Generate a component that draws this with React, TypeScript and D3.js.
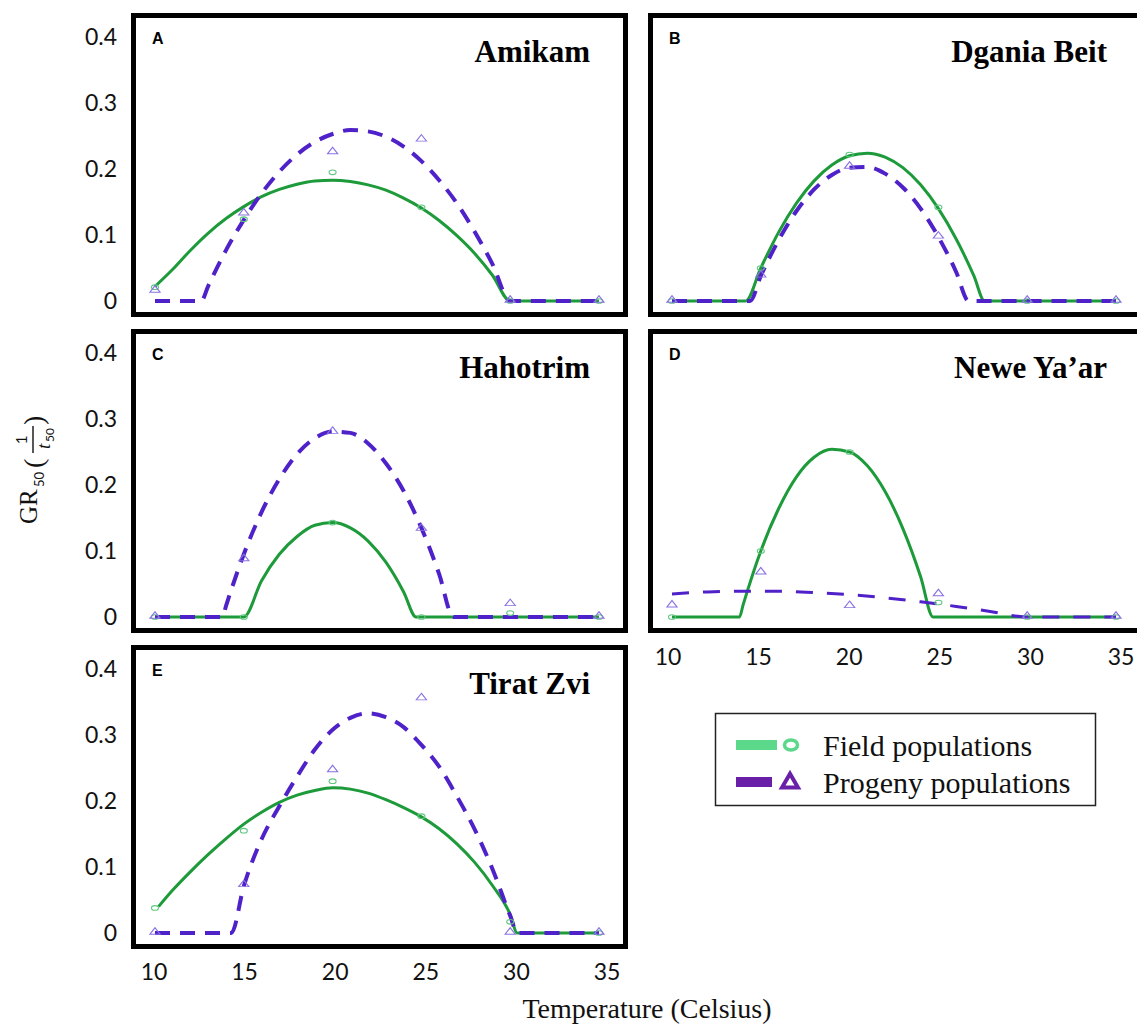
import { useEffect, useRef } from "react";
import * as d3 from "d3";

const siteNames = ["Amikam", "Dgania Beit", "Hahotrim", "Newe Ya’ar", "Tirat Zvi"];
const panelLetters = ["A", "B", "C", "D", "E"];
const obsTemps = [10, 15, 20, 25, 30, 35];
const yTicks = [0, 0.1, 0.2, 0.3, 0.4];
const xTicks = [10, 15, 20, 25, 30, 35];
const legendLabels = ["Field populations", "Progeny populations"];

// observed GR50 values at obsTemps
const amikamField = [0.021, 0.124, 0.195, 0.142, 0, 0];
const amikamProgeny = [0.015, 0.132, 0.225, 0.244, 0, 0];
const dganiaField = [0, 0.05, 0.222, 0.142, 0, 0];
const dganiaProgeny = [0, 0.038, 0.203, 0.097, 0, 0];
const hahotrimField = [0, 0, 0.143, 0, 0.006, 0];
const hahotrimProgeny = [0, 0.087, 0.28, 0.133, 0.019, 0];
const neweField = [0, 0.1, 0.25, 0.022, 0, 0];
const neweProgeny = [0.017, 0.067, 0.016, 0.034, 0, 0];
const tiratField = [0.038, 0.155, 0.23, 0.177, 0.017, 0];
const tiratProgeny = [0, 0.072, 0.246, 0.355, 0, 0];

// fitted curves, [temperature, GR50]
const amikamFieldFit = [
  [10, 0.022], [11, 0.048], [12, 0.077], [13, 0.103], [14, 0.125], [15, 0.143],
  [16, 0.158], [17, 0.169], [18, 0.177], [19, 0.182], [20, 0.183], [21, 0.181],
  [22, 0.176], [23, 0.168], [24, 0.156], [25, 0.141], [26, 0.122], [27, 0.099],
  [28, 0.072], [29, 0.039], [30, 0], [35, 0],
];
const amikamProgenyFit = [
  [10, 0], [12.6, 0], [13, 0.023], [14, 0.077], [15, 0.123], [16, 0.163],
  [17, 0.196], [18, 0.222], [19, 0.241], [20, 0.253], [21, 0.259], [22, 0.257],
  [23, 0.249], [24, 0.234], [25, 0.212], [26, 0.183], [27, 0.148], [28, 0.105],
  [29, 0.056], [30, 0], [35, 0],
];
const dganiaFieldFit = [
  [10, 0], [14.15, 0], [15, 0.05], [16, 0.104], [17, 0.148], [18, 0.182],
  [19, 0.206], [20, 0.22], [21, 0.224], [22, 0.218], [23, 0.202], [24, 0.176],
  [25, 0.14], [26, 0.094], [27, 0.038], [27.6, 0], [35, 0],
];
const dganiaProgenyFit = [
  [10, 0], [14.4, 0], [15, 0.038], [16, 0.092], [17, 0.136], [18, 0.169],
  [19, 0.191], [20, 0.202], [21, 0.203], [22, 0.193], [23, 0.172], [24, 0.14],
  [25, 0.097], [26, 0.044], [26.7, 0], [35, 0],
];
const hahotrimFieldFit = [
  [10, 0], [15, 0], [16, 0.055], [17, 0.095], [18, 0.122], [19, 0.139],
  [20, 0.143], [21, 0.135], [22, 0.115], [23, 0.083], [24, 0.038], [24.7, 0], [35, 0],
];
const hahotrimProgenyFit = [
  [10, 0], [13.8, 0], [14, 0.017], [15, 0.095], [16, 0.159], [17, 0.209],
  [18, 0.247], [19, 0.271], [20, 0.281], [21, 0.279], [22, 0.263], [23, 0.233],
  [24, 0.191], [25, 0.135], [26, 0.065], [26.8, 0], [35, 0],
];
const neweFieldFit = [
  [10, 0], [13.8, 0], [14, 0.018], [15, 0.1], [16, 0.164], [17, 0.212],
  [18, 0.242], [19, 0.254], [20, 0.25], [21, 0.229], [22, 0.19], [23, 0.134],
  [24, 0.061], [24.7, 0], [35, 0],
];
const neweProgenyFit = [
  [10, 0.035], [12, 0.038], [14, 0.039], [16, 0.039], [18, 0.037], [20, 0.034],
  [22, 0.029], [24, 0.023], [26, 0.016], [28, 0.008], [29.5, 0.001], [30, 0], [35, 0],
];
const tiratFieldFit = [
  [10.2, 0.04], [11, 0.065], [12, 0.093], [13, 0.119], [14, 0.143], [15, 0.165],
  [16, 0.183], [17, 0.198], [18, 0.209], [19, 0.216], [20, 0.22], [21, 0.218],
  [22, 0.212], [23, 0.202], [24, 0.19], [25, 0.176], [26, 0.158], [27, 0.135],
  [28, 0.107], [29, 0.072], [30, 0.028], [30.4, 0], [35, 0],
];
const tiratProgenyFit = [
  [10, 0], [14.3, 0], [15, 0.071], [16, 0.142], [17, 0.192], [18, 0.237],
  [19, 0.278], [20, 0.308], [21, 0.326], [22, 0.333], [23, 0.327], [24, 0.312],
  [25, 0.285], [26, 0.252], [27, 0.207], [28, 0.157], [29, 0.097], [30, 0.026],
  [30.4, 0], [35, 0],
];

const GREEN = "#1d9a39";
const PURPLE = "#4f22c9";

export default function App() {
  const ref = useRef<SVGSVGElement>(null);

  useEffect(() => {
    const W = 1137,
      H = 1024;
    const svg = d3.select(ref.current);
    svg.selectAll("*").remove();
    svg.attr("width", W).attr("height", H);
    svg.append("rect").attr("width", W).attr("height", H).attr("fill", "#fff");

    const fieldObs = [amikamField, dganiaField, hahotrimField, neweField, tiratField];
    const progenyObs = [amikamProgeny, dganiaProgeny, hahotrimProgeny, neweProgeny, tiratProgeny];
    const fieldFits = [amikamFieldFit, dganiaFieldFit, hahotrimFieldFit, neweFieldFit, tiratFieldFit];
    const progenyFits = [amikamProgenyFit, dganiaProgenyFit, hahotrimProgenyFit, neweProgenyFit, tiratProgenyFit];

    // panel frames (outer edges)
    const colLeft = [131, 648];
    const rowTop = [13, 329, 645];
    const panelW = 497,
      panelH = 304;

    siteNames.forEach((name, i) => {
      const col = i % 2;
      const row = Math.floor(i / 2);
      const left = colLeft[col];
      const top = rowTop[row];

      const x = d3.scaleLinear().domain([10, 35]).range([left + 24, left + 468]);
      const y = d3.scaleLinear().domain([0, 0.4]).range([top + 288, top + 24]);

      const g = svg.append("g");

      const line = d3
        .line<number[]>()
        .x((d) => x(d[0]))
        .y((d) => y(d[1]))
        .curve(d3.curveMonotoneX);

      // field fit (solid green)
      g.append("path")
        .datum(fieldFits[i])
        .attr("fill", "none")
        .attr("stroke", GREEN)
        .attr("stroke-width", 3)
        .attr("d", line);

      // progeny fit (dashed purple)
      g.append("path")
        .datum(progenyFits[i])
        .attr("fill", "none")
        .attr("stroke", PURPLE)
        .attr("stroke-width", i === 3 ? 3 : 4)
        .attr("stroke-dasharray", i === 3 ? "17,14" : "15,10")
        .attr("d", line);

      // observed points
      g.selectAll(".fobs")
        .data(fieldObs[i])
        .enter()
        .append("ellipse")
        .attr("cx", (d, j) => x(obsTemps[j]))
        .attr("cy", (d) => y(d))
        .attr("rx", 3.5)
        .attr("ry", 2.3)
        .attr("fill", "none")
        .attr("stroke", "#5fc77f")
        .attr("stroke-width", 1.1);

      g.selectAll(".pobs")
        .data(progenyObs[i])
        .enter()
        .append("path")
        .attr("d", d3.symbol(d3.symbolTriangle, 34))
        .attr("transform", (d, j) => `translate(${x(obsTemps[j])},${y(d) - 1}) scale(1.15,0.85)`)
        .attr("fill", "none")
        .attr("stroke", "#8a72e2")
        .attr("stroke-width", 1.1);

      // frame
      svg
        .append("rect")
        .attr("x", left + 2.5)
        .attr("y", top + 2.5)
        .attr("width", panelW - 5)
        .attr("height", panelH - 5)
        .attr("fill", "none")
        .attr("stroke", "#000")
        .attr("stroke-width", 5);

      // panel letter
      svg
        .append("text")
        .attr("x", left + 21)
        .attr("y", top + 31)
        .style("font-family", "'Liberation Sans', Arial, sans-serif")
        .style("font-weight", "bold")
        .style("font-size", "16px")
        .text(panelLetters[i]);

      // site title
      svg
        .append("text")
        .attr("x", left + 459)
        .attr("y", top + 49)
        .attr("text-anchor", "end")
        .style("font-family", "'Liberation Serif', 'Times New Roman', serif")
        .style("font-weight", "bold")
        .style("font-size", "31px")
        .text(name);

      // y tick labels on the left column
      if (col === 0) {
        svg
          .append("g")
          .selectAll("text")
          .data(yTicks)
          .enter()
          .append("text")
          .attr("x", 117)
          .attr("y", (d) => y(d))
          .attr("dy", "0.36em")
          .attr("text-anchor", "end")
          .style("font-family", "Lato, sans-serif")
          .style("font-size", "23px")
          .style("fill", "#111")
          .text((d) => (d === 0 ? "0" : d3.format(".1f")(d)));
      }
    });

    // x tick labels (under D and E)
    const tickRows = [
      { scale: d3.scaleLinear().domain([10, 35]).range([154, 607]), y: 980 },
      { scale: d3.scaleLinear().domain([10, 35]).range([668, 1121]), y: 665 },
    ];
    tickRows.forEach((t) => {
      svg
        .append("g")
        .selectAll("text")
        .data(xTicks)
        .enter()
        .append("text")
        .attr("x", (d) => t.scale(d))
        .attr("y", t.y)
        .attr("text-anchor", "middle")
        .style("font-family", "Lato, sans-serif")
        .style("font-size", "23px")
        .style("fill", "#111")
        .text((d) => d);
    });

    // x axis title
    svg
      .append("text")
      .attr("x", 647)
      .attr("y", 1018)
      .attr("text-anchor", "middle")
      .style("font-family", "'Liberation Serif', 'Times New Roman', serif")
      .style("font-size", "28px")
      .style("fill", "#111")
      .text("Temperature (Celsius)");

    // y axis title: GR50 (1 / t50), rotated
    const yl = svg
      .append("g")
      .attr("transform", "translate(37,470) rotate(-90)")
      .style("fill", "#111");
    yl.append("text")
      .attr("x", -54)
      .attr("y", 0)
      .style("font-family", "'Liberation Serif', serif")
      .style("font-size", "25px")
      .text("GR");
    yl.append("text")
      .attr("x", -17)
      .attr("y", 7)
      .style("font-family", "Lato, sans-serif")
      .style("font-size", "13px")
      .text("50");
    yl.append("text")
      .attr("x", 2)
      .attr("y", 6)
      .style("font-family", "'Liberation Serif', serif")
      .style("font-size", "28px")
      .text("(");
    yl.append("text")
      .attr("x", 30)
      .attr("y", -10)
      .attr("text-anchor", "middle")
      .style("font-family", "Lato, sans-serif")
      .style("font-size", "15px")
      .text("1");
    yl.append("line")
      .attr("x1", 17)
      .attr("x2", 44)
      .attr("y1", -4)
      .attr("y2", -4)
      .attr("stroke", "#111")
      .attr("stroke-width", 1.4);
    yl.append("text")
      .attr("x", 21)
      .attr("y", 13)
      .style("font-family", "'Liberation Serif', serif")
      .style("font-style", "italic")
      .style("font-size", "19px")
      .text("t");
    yl.append("text")
      .attr("x", 28)
      .attr("y", 17)
      .style("font-family", "Lato, sans-serif")
      .style("font-size", "12px")
      .text("50");
    yl.append("text")
      .attr("x", 45)
      .attr("y", 6)
      .style("font-family", "'Liberation Serif', serif")
      .style("font-size", "28px")
      .text(")");

    // legend
    const lg = svg.append("g");
    lg.append("rect")
      .attr("x", 715.5)
      .attr("y", 713.5)
      .attr("width", 380)
      .attr("height", 92)
      .attr("fill", "#fff")
      .attr("stroke", "#222")
      .attr("stroke-width", 1.5);
    const legendColors = ["#5bd88a", "#6a1fa8"];
    legendLabels.forEach((label, k) => {
      const cy = 745 + k * 37;
      lg.append("rect")
        .attr("x", 736)
        .attr("y", cy - 5)
        .attr("width", k === 0 ? 41 : 36)
        .attr("height", 10)
        .attr("fill", legendColors[k]);
      if (k === 0) {
        lg.append("ellipse")
          .attr("cx", 791)
          .attr("cy", cy)
          .attr("rx", 6.5)
          .attr("ry", 5)
          .attr("fill", "none")
          .attr("stroke", legendColors[k])
          .attr("stroke-width", 3.5);
      } else {
        lg.append("path")
          .attr("d", d3.symbol(d3.symbolTriangle, 110))
          .attr("transform", `translate(790,${cy + 1})`)
          .attr("fill", "none")
          .attr("stroke", legendColors[k])
          .attr("stroke-width", 4);
      }
      lg.append("text")
        .attr("x", 823)
        .attr("y", cy + 11)
        .style("font-family", "'Liberation Serif', 'Times New Roman', serif")
        .style("font-size", "30px")
        .style("fill", "#111")
        .text(label);
    });
  }, []);

  return <svg ref={ref} style={{ position: "absolute", left: 0, top: 0 }} />;
}
